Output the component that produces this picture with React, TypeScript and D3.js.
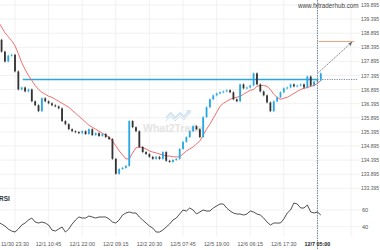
import React from "react";
import * as d3 from "d3";

const closes = [
  138.66, 138.24, 137.89, 138.1, 138.13, 137.54, 136.9, 136.97, 136.83, 136.9,
  136.48, 136.34, 136.13, 136.59, 136.48, 136.41, 136.34, 136.3, 136.23, 135.78,
  135.67, 135.49, 135.42, 135.39, 135.35, 135.42, 135.32, 135.49, 135.28, 135.35,
  135.25, 135.32, 135.21, 135.14, 134.44, 133.91, 134.08, 134.12, 134.19, 135.78,
  135.56, 135.42, 134.86, 134.68, 134.61, 134.51, 134.44, 134.51, 134.44, 134.68,
  134.37, 134.33, 134.4, 134.44, 134.79, 135.04, 135.21, 135.42, 135.6, 135.49,
  135.21, 135.92, 136.27, 136.55, 136.69, 136.76, 136.8, 136.83, 136.87, 136.8,
  136.55, 136.48, 137.08, 136.94, 136.97, 137.04, 137.47, 137.08, 136.83, 136.69,
  136.44, 136.13, 136.48, 136.62, 136.8, 136.94, 136.97, 137.08, 137.01, 137.04,
  137.08, 136.97, 137.36, 137.04, 137.18, 137.22, 137.47,
];
const firstOpen = 138.95;

const maValues = [
  139.3, 139.12, 138.91, 138.77, 138.63, 138.45, 138.17, 137.85, 137.61, 137.4,
  137.22, 137.04, 136.9, 136.8, 136.73, 136.66, 136.62, 136.55, 136.48, 136.41,
  136.34, 136.27, 136.16, 136.06, 135.95, 135.85, 135.74, 135.63, 135.56, 135.49,
  135.42, 135.35, 135.28, 135.21, 135.07, 134.9, 134.72, 134.58, 134.44, 134.44,
  134.65, 134.83, 134.86, 134.83, 134.79, 134.72, 134.68, 134.65, 134.61, 134.58,
  134.54, 134.54, 134.51, 134.51, 134.51, 134.61, 134.72, 134.79, 134.86, 134.97,
  135.07, 135.28, 135.49, 135.67, 135.88, 136.09, 136.3, 136.41, 136.48, 136.55,
  136.59, 136.62, 136.66, 136.73, 136.8, 136.87, 136.9, 137.01, 137.04, 137.04,
  137.01, 136.9, 136.73, 136.62, 136.55, 136.59, 136.62, 136.69, 136.76, 136.83,
  136.9, 136.94, 136.97, 137.01, 137.04, 137.11, 137.22,
];

const rsiValues = [
  45.6, 43.2, 40.8, 37.2, 34.8, 33.6, 37.2, 42.0, 44.4, 48.0,
  50.4, 45.6, 44.4, 45.6, 44.4, 42.0, 36.0, 34.8, 37.2, 39.6,
  33.6, 37.2, 43.2, 48.0, 51.6, 50.4, 50.4, 52.8, 51.6, 50.4,
  51.6, 51.6, 51.6, 49.2, 45.6, 44.4, 48.0, 54.0, 56.4, 57.6,
  56.4, 56.4, 51.6, 48.0, 44.4, 40.8, 38.4, 33.6, 33.6, 36.0,
  39.6, 43.2, 48.0, 50.4, 55.2, 60.0, 58.8, 62.4, 60.0, 55.2,
  57.6, 60.0, 58.8, 58.8, 62.4, 64.8, 67.2, 67.2, 62.4, 58.8,
  56.4, 55.2, 55.2, 54.0, 55.2, 58.8, 57.6, 55.2, 54.0, 50.4,
  45.6, 42.0, 44.4, 44.4, 44.4, 49.2, 56.4, 60.0, 68.4, 67.2,
  62.4, 62.4, 66.0, 57.6, 56.4, 57.6, 54.0,
];

const xTickLabels = [
  "11/30 23:30", "12/1 10:45", "12/1 22:00", "12/2 09:15", "12/2 20:30",
  "12/5 07:45", "12/5 19:00", "12/6 06:15", "12/6 17:30", "12/7 05:00",
];
const xTickIndex = [5, 15, 25, 35, 45, 55, 65, 75, 85, 95];
const priceTicks = [
  139.895, 139.395, 138.895, 138.395, 137.895, 137.395, 136.895,
  136.395, 135.895, 135.395, 134.895, 134.395, 133.895, 133.395,
];
const rsiTicks = [60, 40];

const resistance = 137.255;
const targetPrice = 138.6;
const arrowStart = 137.5;
const signalIndex = 95;

export default function App() {
  const W = 380, H = 250;
  const x = d3.scaleLinear().domain([0, 96]).range([-1.8, 320.8]);
  const y = d3.scaleLinear().domain([133.395, 139.895]).range([188.3, 5]);
  const yr = d3.scaleLinear().domain([40, 60]).range([226.7, 210]);

  const maLine = d3.line<number>().x((_, i) => x(i)).y((d) => y(d));
  const rsiLine = d3.line<number>().x((_, i) => x(i)).y((d) => yr(d));

  const grid = "#eeeeee";
  const font = "'Liberation Sans', Arial, sans-serif";
  const sx = x(signalIndex);

  return (
    <svg width={W} height={H} style={{ position: "absolute", left: 0, top: 0, background: "#fff" }} fontFamily={font}>
      <defs>
        <marker id="ah" viewBox="0 0 10 10" refX="9" refY="5" markerWidth="6" markerHeight="6" orient="auto">
          <path d="M0,1 L10,5 L0,9 L3,5 Z" fill="#666" />
        </marker>
      </defs>
      {[...xTickIndex, 105].map((t) => (
        <line key={"vg" + t} x1={x(t)} x2={x(t)} y1={0} y2={236} stroke={grid} strokeWidth={0.8} />
      ))}
      {priceTicks.map((p) => (
        <line key={"hg" + p} x1={0} x2={360} y1={y(p)} y2={y(p)} stroke={grid} strokeWidth={0.8} />
      ))}
      {rsiTicks.map((r) => (
        <line key={"rg" + r} x1={0} x2={360} y1={yr(r)} y2={yr(r)} stroke={grid} strokeWidth={0.8} />
      ))}

      <g opacity={0.9}>
        <polyline points="166,118 171,113 175,118 180,113 184,117 189,111" fill="none" stroke="#cfe3f1" strokeWidth={2} />
        <polyline points="166,121 171,116 175,121 180,116 184,120 189,114" fill="none" stroke="#cfe3f1" strokeWidth={1} />
        <path d="M186,110 L191,110 L190,115 Z" fill="#cfe3f1" />
        <text x={143} y={132} fontSize={10.5} fontWeight="bold" fill="#e2e2e2">What2Trade</text>
      </g>

      <line x1={x(7.3)} x2={sx} y1={y(resistance)} y2={y(resistance)} stroke="#2aa7e0" strokeWidth={1.4} />
      <line x1={sx} x2={x(107)} y1={y(resistance)} y2={y(resistance)} stroke="#4d6b7d" strokeWidth={0.8} strokeDasharray="1.2,1.2" />

      <path d={maLine(maValues) || ""} fill="none" stroke="#f26d6d" strokeWidth={1} />

      {closes.map((c, i) => {
        const o = i === 0 ? firstOpen : closes[i - 1];
        const up = c >= o;
        const top = y(Math.max(o, c));
        const h = Math.max(1, Math.abs(y(o) - y(c)));
        return (
          <g key={"c" + i}>
            <line x1={x(i)} x2={x(i)} y1={top - 1} y2={top + h + 1} stroke={up ? "#2aa7e0" : "#333"} strokeWidth={0.6} />
            <rect x={x(i) - 0.9} y={top} width={1.8} height={h} fill={up ? "#2aa7e0" : "#333"} />
          </g>
        );
      })}

      <line x1={x(95.3)} x2={x(106)} y1={y(targetPrice)} y2={y(targetPrice)} stroke="#f4a07e" strokeWidth={1} />
      <line x1={x(95.3)} y1={y(arrowStart)} x2={x(105.3)} y2={y(targetPrice - 0.02)} stroke="#666" strokeWidth={0.8} strokeDasharray="1.5,0.8" markerEnd="url(#ah)" />

      <line x1={sx} x2={sx} y1={0} y2={250} stroke="#4d6b7d" strokeWidth={0.8} strokeDasharray="1.5,1" />

      <path d={rsiLine(rsiValues) || ""} fill="none" stroke="#222" strokeWidth={0.8} />
      <text x={-1} y={201} fontSize={6.5} fontWeight="bold" fill="#333">RSI</text>

      {priceTicks.map((p) => (
        <text key={"pl" + p} x={361} y={y(p) + 2} fontSize={5.6} fill="#555" textLength={18} lengthAdjust="spacingAndGlyphs">{p.toFixed(3)}</text>
      ))}
      {rsiTicks.map((r) => (
        <text key={"rl" + r} x={362} y={yr(r) + 2} fontSize={5.6} fill="#555">{r}</text>
      ))}
      {xTickLabels.map((l, k) => (
        <text key={"xl" + k} x={x(xTickIndex[k])} y={245.5} fontSize={5.4} textAnchor="middle"
          fill={k === xTickLabels.length - 1 ? "#222" : "#555"} fontWeight={k === xTickLabels.length - 1 ? "bold" : "normal"}>{l}</text>
      ))}
      <text x={298} y={7.5} fontSize={6.3} fill="#444">www.fxtraderhub.com</text>
    </svg>
  );
}
